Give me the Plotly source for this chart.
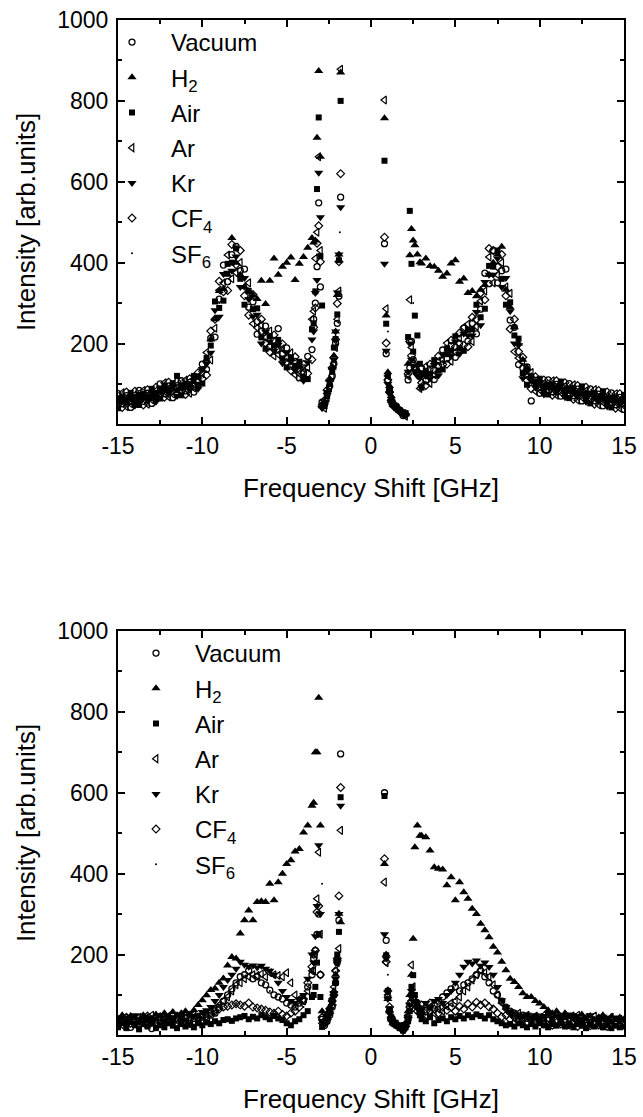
import plotly.graph_objects as go

# ---------------- data (frequency shift in GHz, intensity in arb. units) ----------------
FREQ = [
    -15.0, -14.75, -14.5, -14.25, -14.0, -13.75, -13.5, -13.25, -13.0, -12.75,
    -12.5, -12.25, -12.0, -11.75, -11.5, -11.25, -11.0, -10.75, -10.5, -10.25,
    -10.0, -9.75, -9.5, -9.25, -9.0, -8.75, -8.5, -8.25, -8.0, -7.75,
    -7.5, -7.25, -7.0, -6.75, -6.5, -6.25, -6.0, -5.75, -5.5, -5.25,
    -5.0, -4.75, -4.5, -4.25, -4.0, -3.75, -3.5,
    -3.4, -3.3, -3.2, -3.1, -3.0, -2.9, -2.75, -2.6, -2.45, -2.3, -2.2, -2.1, -2.0, -1.9, -1.8,
    0.8, 0.9, 1.0, 1.1, 1.2, 1.3, 1.5, 1.7, 1.9, 2.05, 2.2, 2.3, 2.4, 2.5, 2.6, 2.75, 2.9,
    3.0, 3.25, 3.5, 3.75, 4.0, 4.25, 4.5, 4.75, 5.0, 5.25,
    5.5, 5.75, 6.0, 6.25, 6.5, 6.75, 7.0, 7.25, 7.5, 7.75,
    8.0, 8.25, 8.5, 8.75, 9.0, 9.25, 9.5, 9.75, 10.0, 10.25,
    10.5, 10.75, 11.0, 11.25, 11.5, 11.75, 12.0, 12.25, 12.5, 12.75,
    13.0, 13.25, 13.5, 13.75, 14.0, 14.25, 14.5, 14.75, 15.0,
]

# ---- top panel ----
vac_top = [
    76, 51, 71, 42, 64, 84, 57, 77, 52, 74, 100, 76, 95, 66, 88, 108, 83, 104, 80, 108,
    149, 136, 213, 216, 310, 394, 353, 420, 440, 380, 384, 290, 303, 223, 230, 243, 192, 208, 237, 175,
    189, 144, 156, 115, 128, 168, 185,
    260, 300, 390, 548, 340, 55, 50, 75, 95, 120, 150, 200, 250, 317, 562,
    447, 175, 109, 85, 60, 50, 45, 35, 22, 25, 110, 140, 205, 160, 140, 130, 125,
    139, 108, 137, 111, 145, 184, 162, 195, 166, 200, 238, 206, 250, 224, 285, 374, 348, 430, 350, 380,
    384, 258, 240, 148, 140, 142, 58, 109, 77, 92, 110, 81, 99, 70, 85, 101, 71, 87, 58, 74,
    88, 59, 75, 46, 62, 78, 49, 67, 37,
]
h2_top = [
    58, 55, 62, 60, 66, 60, 64, 70, 68, 75, 80, 95, 85, 88, 82, 90, 95, 98, 105, 118,
    135, 160, 210, 260, 330, 335, 370, 461, 400, 370, 340, 330, 320, 310, 355, 298, 355, 410, 370, 390,
    400, 413, 357, 397, 414, 437, 461,
    450, 455, 709, 874, 662, 45, 55, 80, 110, 140, 170, 230, 320, 420, 870,
    757, 269, 129, 95, 70, 55, 45, 35, 28, 25, 150, 418, 483, 455, 443, 420, 401,
    398, 410, 392, 390, 380, 365, 373, 398, 406, 353, 361, 325, 330, 317, 333, 345, 370, 400, 420, 439,
    333, 290, 240, 200, 160, 140, 120, 105, 100, 95, 90, 96, 92, 90, 86, 80, 82, 78, 74, 76,
    72, 66, 68, 62, 65, 58, 60, 55, 58,
]
air_top = [
    40, 69, 62, 78, 55, 48, 75, 68, 88, 65, 64, 94, 86, 102, 120, 72, 101, 95, 120, 98,
    101, 164, 195, 304, 288, 306, 397, 400, 435, 360, 296, 330, 285, 287, 215, 187, 218, 195, 209, 163,
    141, 166, 145, 155, 118, 112, 235,
    250, 329, 582, 759, 416, 294, 45, 70, 100, 130, 190, 211, 272, 406, 800,
    652, 249, 120, 85, 60, 50, 40, 35, 30, 28, 216, 528, 397, 180, 269, 220, 150,
    91, 132, 125, 159, 133, 136, 188, 182, 218, 187, 182, 234, 235, 296, 265, 286, 392, 390, 430, 360,
    296, 302, 220, 212, 127, 98, 118, 100, 113, 83, 74, 99, 90, 106, 76, 65, 89, 78, 94, 65,
    52, 77, 66, 82, 53, 42, 67, 58, 73,
]
ar_top = [
    58, 78, 44, 51, 73, 66, 84, 50, 61, 83, 82, 103, 68, 75, 97, 90, 110, 77, 90, 118,
    125, 178, 159, 238, 332, 350, 419, 360, 375, 400, 340, 350, 249, 239, 245, 215, 231, 169, 173, 187,
    165, 177, 123, 125, 138, 140, 260,
    280, 410, 475, 662, 430, 50, 40, 65, 90, 120, 150, 190, 260, 330, 878,
    802, 286, 120, 80, 55, 45, 40, 30, 25, 20, 120, 308, 190, 150, 140, 130, 89,
    95, 144, 101, 123, 157, 160, 201, 156, 179, 213, 240, 248, 205, 242, 305, 330, 414, 350, 370, 400,
    340, 324, 180, 164, 153, 120, 128, 82, 86, 101, 92, 108, 72, 79, 94, 83, 98, 60, 67, 83,
    70, 86, 48, 55, 71, 60, 76, 40, 46,
]
kr_top = [
    67, 60, 53, 69, 46, 75, 66, 59, 79, 56, 91, 85, 77, 93, 70, 99, 92, 86, 110, 88,
    137, 150, 177, 282, 266, 372, 375, 380, 415, 340, 362, 310, 267, 271, 200, 229, 205, 182, 197, 151,
    177, 155, 134, 145, 108, 154, 210,
    230, 325, 357, 622, 512, 40, 55, 80, 105, 135, 160, 230, 326, 420, 537,
    397, 182, 100, 75, 55, 45, 38, 30, 25, 22, 130, 200, 160, 145, 130, 120, 115,
    127, 120, 113, 147, 121, 172, 175, 169, 205, 174, 224, 220, 220, 278, 245, 352, 370, 370, 410, 340,
    362, 280, 200, 196, 114, 131, 108, 91, 104, 74, 101, 90, 81, 97, 67, 92, 80, 69, 85, 56,
    79, 68, 57, 73, 44, 69, 58, 49, 64,
]
cf4_top = [
    49, 42, 80, 60, 82, 57, 48, 86, 70, 92, 73, 67, 104, 84, 106, 81, 74, 113, 100, 128,
    113, 122, 231, 260, 354, 328, 331, 445, 395, 430, 318, 270, 321, 255, 260, 201, 179, 221, 185, 199,
    153, 133, 167, 135, 148, 126, 160,
    240, 288, 448, 491, 402, 45, 60, 85, 110, 140, 165, 210, 299, 402, 620,
    463, 201, 110, 80, 60, 50, 40, 35, 28, 25, 125, 205, 170, 150, 135, 125, 120,
    103, 96, 149, 135, 169, 148, 149, 208, 192, 226, 196, 192, 265, 260, 325, 308, 435, 430, 390, 420,
    318, 236, 260, 180, 166, 109, 88, 118, 95, 110, 83, 72, 108, 88, 103, 74, 62, 96, 76, 92,
    61, 50, 84, 64, 80, 51, 40, 76, 55,
]
sf6_top_freq = [-12.0, -9.0, -7.5, -6.0, -4.5, -3.2, -1.85, 1.0, 2.5, 4.5, 6.0, 7.5, 9.0, 12.0]
sf6_top = [80, 300, 345, 200, 145, 420, 475, 230, 300, 180, 240, 400, 150, 80]

# ---- bottom panel ----
vac_bot = [
    25, 40, 30, 20, 35, 28, 42, 25, 17, 38, 30, 45, 32, 40, 28, 44, 35, 30, 42, 36,
    45, 38, 50, 55, 70, 85, 100, 115, 130, 145, 150, 160, 140, 145, 130, 125, 112, 100, 95, 90,
    80, 75, 70, 80, 85, 120, 150,
    190, 210, 250, 300, 150, 40, 25, 35, 50, 70, 100, 130, 180, 285, 696,
    600, 235, 95, 60, 40, 30, 25, 20, 15, 25, 40, 70, 100, 90, 80, 70, 60,
    55, 70, 60, 75, 85, 95, 105, 115, 120, 110, 125, 130, 140, 150, 160, 145, 130, 110, 100, 85,
    70, 60, 55, 48, 50, 42, 45, 38, 40, 35, 42, 30, 38, 32, 40, 28, 35, 30, 38, 25,
    32, 28, 35, 22, 30, 26, 32, 24, 28,
]
h2_bot = [
    40, 50, 35, 48, 42, 38, 50, 45, 40, 52, 48, 55, 45, 58, 50, 55, 60, 52, 62, 75,
    87, 99, 112, 116, 130, 141, 173, 194, 190, 252, 285, 309, 285, 330, 332, 330, 375, 334, 379, 400,
    424, 433, 455, 461, 502, 519, 568,
    575, 700, 700, 835, 519, 60, 40, 55, 70, 90, 110, 150, 190, 301, 280,
    424, 200, 90, 60, 40, 30, 25, 20, 22, 30, 60, 100, 150, 239, 465, 519, 494,
    494, 490, 457, 416, 412, 410, 371, 391, 334, 379, 354, 338, 313, 300, 276, 260, 243, 219, 205, 182,
    161, 140, 132, 120, 104, 95, 95, 85, 79, 70, 62, 55, 60, 48, 55, 45, 50, 42, 52, 40,
    48, 38, 45, 50, 40, 46, 38, 44, 40,
]
air_bot = [
    20, 30, 18, 35, 25, 15, 28, 22, 32, 18, 25, 20, 30, 24, 18, 28, 22, 26, 20, 30,
    25, 32, 28, 35, 30, 38, 40, 36, 42, 45, 48, 40, 46, 42, 50, 45, 40, 48, 42, 38,
    30, 25, 35, 40, 50, 60, 95,
    100, 120, 180, 250, 95, 21, 30, 45, 62, 87, 100, 130, 200, 256, 589,
    592, 198, 110, 65, 45, 35, 25, 18, 12, 20, 35, 60, 120, 149, 100, 80, 50,
    40, 35, 45, 30, 38, 42, 35, 45, 40, 48, 42, 50, 45, 52, 48, 42, 50, 40, 35, 30,
    25, 28, 22, 30, 25, 20, 28, 22, 30, 25, 20, 28, 24, 30, 22, 26, 20, 28, 24, 18,
    26, 22, 28, 20, 25, 18, 24, 20, 22,
]
ar_bot = [
    30, 25, 40, 35, 28, 45, 30, 38, 50, 32, 42, 35, 48, 40, 36, 50, 44, 38, 52, 45,
    48, 55, 60, 65, 75, 85, 95, 110, 125, 130, 140, 145, 150, 148, 152, 145, 155, 150, 148, 145,
    155, 130, 100, 90, 85, 110, 160,
    160, 200, 338, 453, 250, 30, 35, 50, 65, 90, 120, 160, 180, 215, 507,
    379, 180, 100, 60, 40, 32, 28, 22, 18, 30, 50, 80, 174, 120, 90, 75, 55,
    60, 50, 70, 55, 65, 60, 72, 80, 85, 95, 110, 120, 137, 150, 161, 155, 145, 125, 100, 80,
    65, 54, 50, 55, 45, 50, 42, 48, 44, 50, 40, 46, 52, 42, 48, 40, 45, 50, 38, 44,
    40, 48, 36, 42, 38, 45, 35, 40, 38,
]
kr_bot = [
    35, 45, 28, 40, 50, 32, 45, 38, 30, 42, 50, 35, 46, 40, 52, 45, 38, 55, 48, 50,
    58, 62, 70, 85, 100, 120, 137, 150, 165, 182, 175, 170, 173, 168, 172, 165, 160, 150, 130, 110,
    95, 85, 80, 90, 100, 140, 200,
    180, 245, 320, 470, 300, 35, 28, 40, 55, 80, 105, 140, 180, 300, 568,
    250, 190, 90, 55, 38, 30, 25, 20, 15, 28, 45, 75, 110, 100, 85, 70, 60,
    65, 80, 70, 85, 90, 80, 100, 110, 130, 150, 170, 182, 178, 185, 172, 180, 169, 150, 120, 87,
    70, 60, 55, 50, 48, 52, 45, 50, 42, 48, 55, 45, 50, 40, 46, 52, 42, 48, 40, 45,
    50, 42, 38, 46, 40, 35, 44, 38, 42,
]
cf4_bot = [
    28, 35, 45, 30, 40, 25, 35, 48, 38, 30, 45, 40, 35, 50, 42, 38, 48, 40, 35, 45,
    52, 48, 55, 60, 65, 70, 72, 75, 78, 75, 72, 80, 70, 68, 65, 62, 58, 55, 60, 52,
    48, 55, 60, 70, 90, 130, 170,
    200, 210, 305, 320, 150, 45, 30, 40, 55, 75, 100, 160, 190, 345, 613,
    437, 182, 110, 70, 45, 35, 28, 22, 12, 22, 45, 70, 85, 95, 75, 60, 65,
    75, 60, 80, 65, 55, 70, 62, 70, 60, 72, 65, 78, 70, 82, 75, 80, 70, 65, 55, 46,
    50, 40, 45, 35, 40, 32, 38, 30, 35, 28, 36, 25, 32, 28, 34, 26, 30, 22, 28, 32,
    24, 30, 26, 32, 22, 28, 30, 25, 30,
]
sf6_bot_freq = [-12.0, -8.0, -6.0, -4.0, -2.9, -1.9, 1.0, 2.5, 5.0, 7.0, 10.0, 13.0]
sf6_bot = [40, 80, 110, 70, 375, 160, 150, 60, 90, 80, 45, 35]

LABELS = ["Vacuum", "H<sub>2</sub>", "Air", "Ar", "Kr", "CF<sub>4</sub>", "SF<sub>6</sub>"]
X_TICKS = [-15, -10, -5, 0, 5, 10, 15]
Y_TICKS = [200, 400, 600, 800, 1000]

for _n, _a in [("vac_top", vac_top), ("h2_top", h2_top), ("air_top", air_top), ("ar_top", ar_top),
               ("kr_top", kr_top), ("cf4_top", cf4_top), ("vac_bot", vac_bot), ("h2_bot", h2_bot),
               ("air_bot", air_bot), ("ar_bot", ar_bot), ("kr_bot", kr_bot), ("cf4_bot", cf4_bot)]:
    assert len(_a) == len(FREQ), (_n, len(_a), len(FREQ))

# ---------------- styling ----------------
FONT = "Liberation Sans, Arial, Helvetica, sans-serif"
BLACK = "#000000"
SYMBOLS = [
    dict(symbol="circle-open", size=6, line=dict(width=1.3, color=BLACK)),
    dict(symbol="triangle-up", size=8, line=dict(width=0)),
    dict(symbol="square", size=6, line=dict(width=0)),
    dict(symbol="triangle-left-open", size=7, line=dict(width=1.2, color=BLACK)),
    dict(symbol="triangle-down", size=8, line=dict(width=0)),
    dict(symbol="diamond-open", size=6, line=dict(width=1.2, color=BLACK)),
    dict(symbol="circle", size=2, line=dict(width=0)),
]

fig = go.Figure()


def add_panel(series, sf6x, sf6y, xa, ya, legend):
    for i, ys in enumerate(series):
        fig.add_trace(go.Scatter(
            x=FREQ, y=ys, mode="markers", name=LABELS[i],
            marker=dict(color=BLACK, **SYMBOLS[i]),
            xaxis=xa, yaxis=ya, legend=legend, legendgroup=f"{legend}_{i}",
        ))
    fig.add_trace(go.Scatter(
        x=sf6x, y=sf6y, mode="markers", name=LABELS[6],
        marker=dict(color=BLACK, **SYMBOLS[6]),
        xaxis=xa, yaxis=ya, legend=legend, legendgroup=f"{legend}_6",
    ))


add_panel([vac_top, h2_top, air_top, ar_top, kr_top, cf4_top], sf6_top_freq, sf6_top, "x", "y", "legend")
add_panel([vac_bot, h2_bot, air_bot, ar_bot, kr_bot, cf4_bot], sf6_bot_freq, sf6_bot, "x2", "y2", "legend2")

W, H = 643, 1117
XDOM = [118 / W, 624 / W]
TOP_DOM = [1 - 424 / H, 1 - 20 / H]
BOT_DOM = [1 - 1035 / H, 1 - 631 / H]


def xcfg(anchor):
    return dict(
        domain=XDOM, anchor=anchor, range=[-15, 15],
        tickmode="array", tickvals=X_TICKS, ticktext=[str(v) for v in X_TICKS],
        ticks="inside", ticklen=7, tickwidth=1.5, tickcolor=BLACK,
        showline=True, linewidth=2, linecolor=BLACK, mirror="ticks",
        showgrid=False, zeroline=False,
        minor=dict(tickmode="linear", tick0=0, dtick=2.5, ticks="inside", ticklen=4,
                   tickwidth=1.5, tickcolor=BLACK, showgrid=False),
        tickfont=dict(family=FONT, size=23, color=BLACK), ticklabelstandoff=0,
        title=dict(text="Frequency Shift [GHz]", font=dict(family=FONT, size=26, color=BLACK), standoff=21),
        automargin=False,
    )


def ycfg(anchor, dom):
    return dict(
        domain=dom, anchor=anchor, range=[1, 1000],
        tickmode="array", tickvals=Y_TICKS, ticktext=[str(v) for v in Y_TICKS],
        ticks="inside", ticklen=7, tickwidth=1.5, tickcolor=BLACK,
        showline=True, linewidth=2, linecolor=BLACK, mirror="ticks",
        showgrid=False, zeroline=False,
        minor=dict(tickmode="linear", tick0=0, dtick=100, ticks="inside", ticklen=4,
                   tickwidth=1.5, tickcolor=BLACK, showgrid=False),
        tickfont=dict(family=FONT, size=23, color=BLACK), ticklabelstandoff=3,
        title=dict(text="Intensity [arb.units]", font=dict(family=FONT, size=26, color=BLACK), standoff=14),
        automargin=False,
    )


def legcfg(x, y):
    return dict(
        x=x, y=y, xanchor="left", yanchor="top", bgcolor="rgba(0,0,0,0)", borderwidth=0,
        font=dict(family=FONT, size=24, color=BLACK), tracegroupgap=1, itemwidth=68,
        itemclick=False, itemdoubleclick=False,
    )


fig.update_layout(
    width=W, height=H, autosize=False,
    margin=dict(l=0, r=0, t=0, b=0),
    paper_bgcolor="white", plot_bgcolor="white",
    font=dict(family=FONT, color=BLACK),
    xaxis=xcfg("y"), yaxis=ycfg("x", TOP_DOM),
    xaxis2=xcfg("y2"), yaxis2=ycfg("x2", BOT_DOM),
    legend=legcfg(93 / W, 1 - 20 / H),
    legend2=legcfg(117 / W, 1 - 631 / H),
)

fig.write_html("out.html")
